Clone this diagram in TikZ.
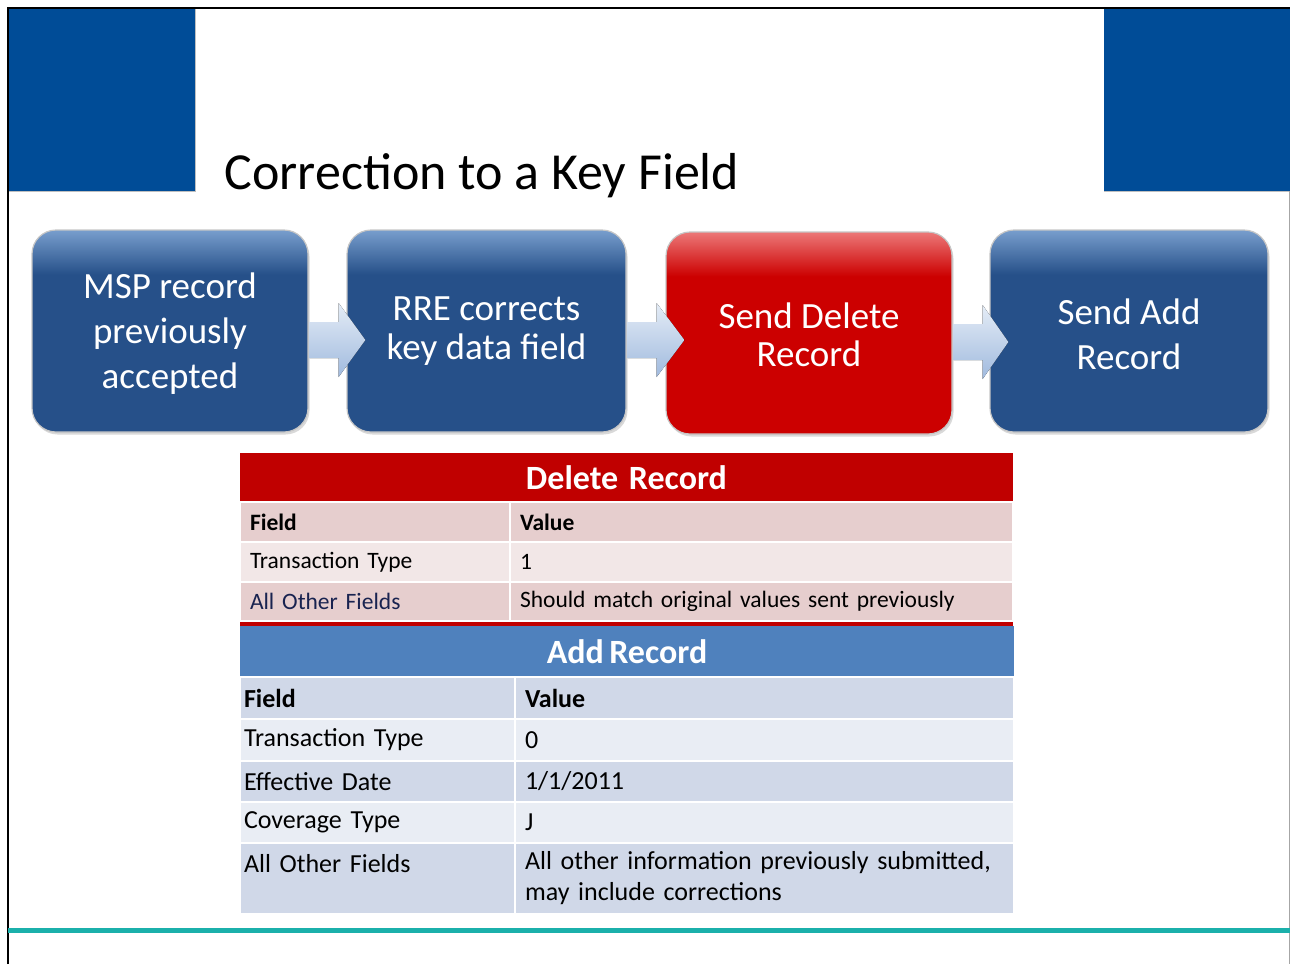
\documentclass[tikz,border=0pt]{standalone}
\usepackage{fontspec}
\setmainfont{Carlito}
\newfontfamily\tablefont{Carlito}[WordSpace=0.7]
\usetikzlibrary{positioning, calc, shadows}

\definecolor{slideblue}{RGB}{0,76,151}
\definecolor{boxblue}{RGB}{38,80,137}
\definecolor{boxblueTop}{RGB}{120,158,205}
\definecolor{boxred}{RGB}{204,0,0}
\definecolor{boxredTop}{RGB}{236,120,120}
\definecolor{arrowTop}{RGB}{228,236,246}
\definecolor{arrowBot}{RGB}{160,186,222}
\definecolor{delhead}{RGB}{192,0,0}
\definecolor{deldark}{RGB}{230,206,206}
\definecolor{dellight}{RGB}{242,231,231}
\definecolor{addhead}{RGB}{79,129,189}
\definecolor{adddark}{RGB}{208,216,232}
\definecolor{addlight}{RGB}{233,237,244}
\definecolor{tealline}{RGB}{27,176,171}
\definecolor{navytext}{RGB}{25,35,80}

\pgfdeclareverticalshading{bluegloss}{100bp}{color(0bp)=(boxblue); color(25bp)=(boxblue); color(64bp)=(boxblue); color(75bp)=(boxblueTop); color(100bp)=(boxblueTop)}
\pgfdeclareverticalshading{redgloss}{100bp}{color(0bp)=(boxred); color(25bp)=(boxred); color(64bp)=(boxred); color(75bp)=(boxredTop); color(100bp)=(boxredTop)}

\tikzset{
  stepbox/.style={rounded corners=24pt, minimum height=202pt, align=center, text=white,
    draw=gray!45, line width=1.2pt, inner sep=0pt,
    drop shadow={opacity=0.3, shadow xshift=1.5pt, shadow yshift=-2.5pt}},
  bluestep/.style={stepbox, shading=bluegloss},
  redstep/.style={stepbox, shading=redgloss},
  flowarrow/.style={top color=arrowTop, bottom color=arrowBot},
  tablehead/.style={anchor=north west, inner sep=0pt, outer sep=0pt, text=white,
    font=\tablefont\fontsize{34}{38}\selectfont\bfseries},
  cell/.style={anchor=north west, draw=white, line width=1.5pt, inner xsep=10pt,
    inner ysep=0pt, outer sep=0pt, minimum height=#1, align=left},
  cell/.default=40pt,
  dcell/.style={cell=#1, font=\tablefont\fontsize{23.5}{28}\selectfont},
  dcell/.default=40pt,
  acell/.style={cell=#1, font=\tablefont\fontsize{26}{31}\selectfont},
  acell/.default=41pt
}

\begin{document}
\begin{tikzpicture}[x=1pt, y=-1pt]
\useasboundingbox (0,0) rectangle (1290,964);
% slide frame and corner blocks
\fill[slideblue] (8,8) rectangle (195,191);
\fill[slideblue] (1104,8) rectangle (1290,191);
\draw[gray!50] (195,8) -- (195,191) -- (8,191);
\draw[gray!50] (1104,191) -- (1290,191);
\draw[line width=1.5pt] (8,964) -- (8,8) -- (1290,8);
\draw[gray!70] (1289,191) -- (1289,964);
\node[anchor=base west, font=\fontsize{52}{60}\selectfont] (title) at (221,189) {Correction to a Key Field};

% process steps
\node[bluestep, minimum width=276pt, font=\fontsize{37}{45}\selectfont] (msp) at (170,331) {\rule{0pt}{30pt}MSP record\\previously\\accepted};
\node[bluestep, minimum width=279pt, font=\fontsize{37}{39}\selectfont] (rre) at (486.5,331) {RRE corrects\\key data field};
\node[redstep, minimum width=286pt, font=\fontsize{37}{38}\selectfont] (send del) at (809,333) {\rule{0pt}{30pt}Send Delete\\Record};
\node[bluestep, minimum width=278pt, font=\fontsize{37}{45}\selectfont] (send add) at (1129,331) {\rule{0pt}{32pt}Send Add\\Record};

% block arrows between steps
\foreach \a/\b in {msp/rre, rre/send del, send del/send add}
  \fill[flowarrow] ($(\a.east)+(1,-9)$) -- ($(\a.east)+(30,-9)$) -- ($(\a.east)+(30,-28)$)
    -- ($(\b.west |- \a.east)+(19,9)$) -- ($(\a.east)+(30,46)$) -- ($(\a.east)+(30,27)$)
    -- ($(\a.east)+(1,27)$) -- cycle;

% delete record table
\node[tablehead, fill=delhead, minimum width=773pt, minimum height=49pt] (delhd) at (240,453) {Delete\ \ Record};
\node[dcell, fill=deldark, text width=250pt] (d1f) at (delhd.south west) {\textbf{Field}};
\node[dcell, fill=deldark, text width=483pt] (d1v) at (d1f.north east) {\textbf{Value}};
\node[dcell, fill=dellight, text width=250pt] (d2f) at (d1f.south west) {Transaction Type};
\node[dcell, fill=dellight, text width=483pt] (d2v) at (d2f.north east) {1};
\node[dcell=39pt, fill=deldark, text width=250pt, text=navytext] (d3f) at (d2f.south west) {All Other Fields};
\node[dcell=39pt, fill=deldark, text width=483pt] (d3v) at (d3f.north east) {Should match original values sent previously};
\draw[delhead, line width=4pt] ($(d3f.south west)+(0,2.5)$) -- ($(d3v.south east)+(0,2.5)$);

% add record table
\node[tablehead, fill=addhead, minimum width=774pt, minimum height=51pt] (addhd) at ($(d3f.south west)+(0,5)$) {Add Record};
\node[acell=42pt, fill=adddark, text width=267pt, inner xsep=4pt] (a1f) at (addhd.south west) {\textbf{Field}};
\node[acell=42pt, fill=adddark, text width=479pt] (a1v) at (a1f.north east) {\textbf{Value}};
\node[acell=42pt, fill=addlight, text width=267pt, inner xsep=4pt] (a2f) at (a1f.south west) {Transaction Type};
\node[acell=42pt, fill=addlight, text width=479pt] (a2v) at (a2f.north east) {0};
\node[acell, fill=adddark, text width=267pt, inner xsep=4pt] (a3f) at (a2f.south west) {Effective Date};
\node[acell, fill=adddark, text width=479pt] (a3v) at (a3f.north east) {1/1/2011};
\node[acell, fill=addlight, text width=267pt, inner xsep=4pt] (a4f) at (a3f.south west) {Coverage Type};
\node[acell, fill=addlight, text width=479pt] (a4v) at (a4f.north east) {J};
\node[acell=71pt, fill=adddark, text width=267pt, inner xsep=4pt] (a5f) at (a4f.south west) {All Other Fields\\~};
\node[acell=71pt, fill=adddark, text width=479pt] (a5v) at (a5f.north east) {All other information previously submitted,\\may include corrections};

% footer rule
\draw[tealline, line width=5pt] (8,930.5) -- (1290,930.5);
\end{tikzpicture}
\end{document}
